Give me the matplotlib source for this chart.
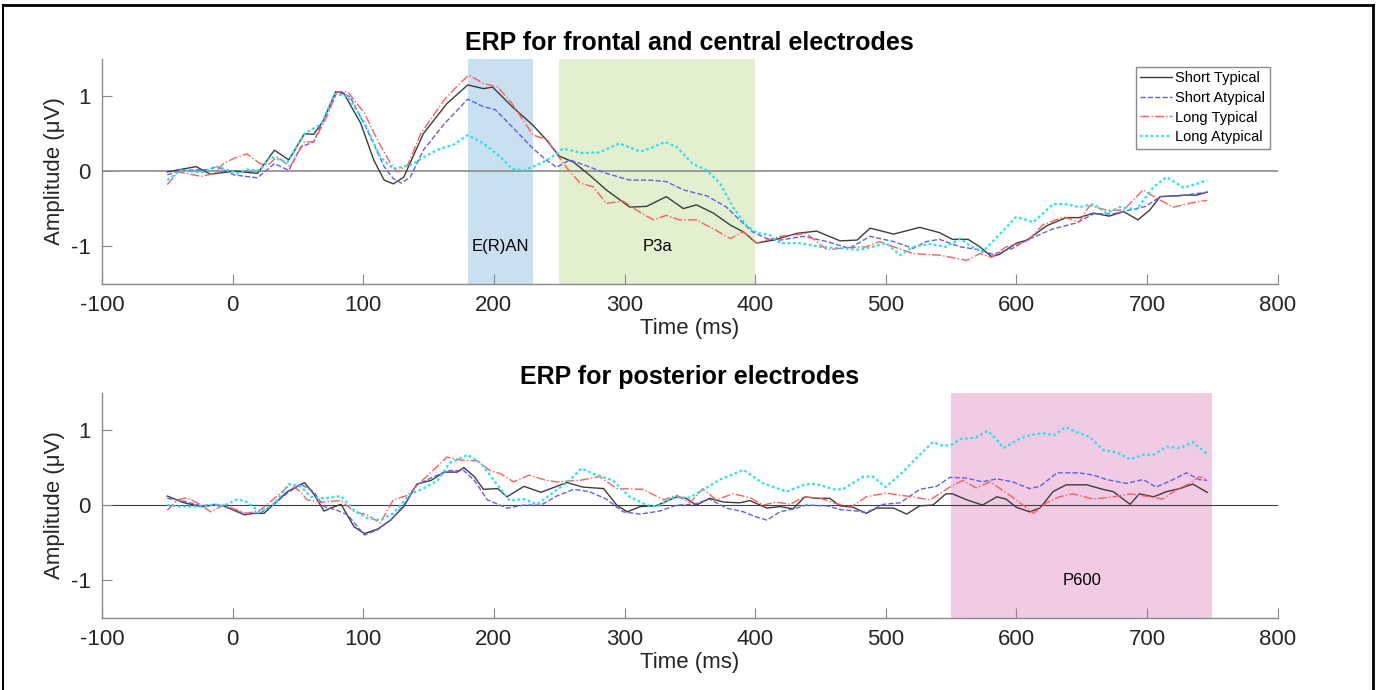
import numpy as np
import matplotlib.pyplot as plt
from matplotlib.lines import Line2D

plt.rcParams['font.family'] = ['Liberation Sans', 'DejaVu Sans']
plt.rcParams['axes.unicode_minus'] = False

# ---- frontal / central electrodes ----
fc_st_t = [-50, -28, -17, 1, 19, 32, 43, 55, 62, 69, 79, 85, 98, 108, 116, 123, 131, 146, 164,
           180, 192, 199, 214, 230, 240, 250, 261, 273, 286, 304, 317, 332, 345, 355, 368, 381,
           391, 401, 414, 432, 447, 465, 478, 488, 506, 526, 541, 551, 563, 572, 581, 587, 600,
           608, 623, 638, 648, 659, 671, 682, 693, 702, 710, 730, 738, 746]
fc_st_v = [-0.01, 0.06, -0.04, 0.0, -0.03, 0.28, 0.15, 0.50, 0.49, 0.66, 1.06, 1.04, 0.64, 0.15,
           -0.12, -0.17, -0.08, 0.50, 0.90, 1.15, 1.10, 1.12, 0.86, 0.61, 0.42, 0.20, 0.12, -0.05,
           -0.25, -0.48, -0.47, -0.34, -0.50, -0.45, -0.56, -0.72, -0.81, -0.96, -0.92, -0.83,
           -0.80, -0.93, -0.92, -0.76, -0.84, -0.75, -0.82, -0.91, -0.91, -1.01, -1.14, -1.11,
           -0.96, -0.92, -0.73, -0.62, -0.62, -0.56, -0.60, -0.54, -0.65, -0.52, -0.34, -0.32,
           -0.32, -0.28]

fc_sa_t = [-50, -40, -19, -12, 1, 19, 32, 43, 52, 62, 72, 80, 90, 103, 116, 123, 129, 136, 146,
           162, 180, 192, 201, 214, 230, 240, 248, 258, 271, 286, 304, 319, 332, 345, 363, 378,
           388, 398, 409, 419, 437, 455, 472, 488, 506, 521, 531, 541, 557, 572, 582, 597, 608,
           628, 646, 659, 674, 689, 699, 710, 725, 746]
fc_sa_v = [-0.05, 0.01, 0.02, 0.06, -0.05, -0.09, 0.10, 0.01, 0.32, 0.39, 0.77, 1.06, 0.99, 0.55,
           0.06, -0.10, -0.16, -0.08, 0.28, 0.63, 0.96, 0.86, 0.82, 0.59, 0.30, 0.15, 0.05, 0.15,
           0.07, -0.03, -0.12, -0.12, -0.14, -0.25, -0.33, -0.48, -0.65, -0.81, -0.90, -0.92,
           -0.87, -0.94, -1.03, -0.87, -0.94, -1.03, -0.94, -0.91, -1.01, -1.05, -1.11, -1.03,
           -0.92, -0.77, -0.69, -0.57, -0.57, -0.51, -0.47, -0.34, -0.33, -0.28]

fc_lt_t = [-50, -42, -24, -14, -7, 1, 11, 21, 27, 34, 44, 55, 62, 72, 80, 88, 101, 111, 121, 126,
           134, 144, 162, 175, 181, 192, 203, 214, 230, 241, 245, 256, 266, 276, 286, 299, 309,
           322, 332, 342, 355, 370, 381, 391, 401, 419, 439, 455, 470, 485, 495, 506, 521, 541,
           562, 572, 581, 592, 608, 620, 636, 648, 656, 669, 682, 697, 707, 720, 735, 746]
fc_lt_v = [-0.18, -0.01, -0.07, -0.03, 0.10, 0.17, 0.23, 0.10, 0.08, 0.19, 0.06, 0.39, 0.39, 0.72,
           1.06, 1.06, 0.77, 0.41, 0.10, -0.01, 0.08, 0.50, 0.95, 1.19, 1.28, 1.17, 1.12, 0.90,
           0.48, 0.42, 0.30, 0.04, -0.16, -0.21, -0.43, -0.40, -0.52, -0.65, -0.59, -0.65, -0.65,
           -0.79, -0.90, -0.81, -0.96, -0.87, -0.83, -1.05, -1.02, -1.01, -0.94, -1.01, -1.10,
           -1.12, -1.19, -1.10, -1.15, -1.01, -0.94, -0.72, -0.61, -0.68, -0.46, -0.52, -0.52,
           -0.25, -0.36, -0.48, -0.42, -0.39]

fc_la_t = [-50, -40, -24, -12, 4, 11, 21, 29, 42, 55, 68, 78, 88, 101, 113, 123, 136, 152, 159,
           169, 180, 192, 205, 214, 223, 233, 243, 253, 268, 281, 296, 312, 322, 331, 340, 352,
           363, 373, 383, 393, 401, 411, 419, 434, 450, 465, 480, 490, 500, 511, 521, 534, 546,
           557, 564, 574, 590, 600, 613, 628, 638, 648, 659, 669, 679, 692, 705, 715, 728, 738, 746]
fc_la_v = [-0.12, 0.01, -0.02, 0.06, -0.03, 0.02, 0.01, 0.19, 0.12, 0.50, 0.63, 1.03, 1.00, 0.64,
           0.19, 0.03, 0.08, 0.24, 0.30, 0.35, 0.48, 0.37, 0.19, 0.03, 0.01, 0.08, 0.17, 0.30,
           0.24, 0.25, 0.37, 0.26, 0.32, 0.39, 0.32, 0.10, 0.01, -0.16, -0.48, -0.72, -0.82,
           -0.85, -0.96, -0.96, -1.01, -1.03, -1.05, -1.01, -0.96, -1.12, -1.01, -0.97, -1.01,
           -0.90, -0.99, -1.08, -0.79, -0.61, -0.68, -0.44, -0.44, -0.48, -0.44, -0.56, -0.48,
           -0.51, -0.21, -0.08, -0.22, -0.17, -0.12]

# ---- posterior electrodes ----
po_st_t = [-50, -37, -24, -14, -7, 1, 9, 16, 24, 32, 42, 55, 62, 70, 75, 83, 93, 101, 111, 121,
           131, 141, 152, 162, 172, 177, 185, 192, 203, 210, 223, 236, 251, 256, 268, 284, 294,
           302, 312, 324, 340, 347, 355, 365, 376, 388, 396, 409, 419, 429, 438, 447, 457, 465,
           475, 485, 493, 506, 516, 526, 536, 546, 551, 562, 574, 585, 592, 600, 610, 618, 628,
           638, 654, 666, 674, 687, 694, 705, 715, 725, 735, 746]
po_st_v = [0.12, 0.03, -0.02, 0.0, -0.01, -0.07, -0.13, -0.11, -0.11, 0.02, 0.18, 0.30, 0.15,
           -0.08, -0.04, 0.01, -0.29, -0.38, -0.32, -0.20, -0.02, 0.28, 0.33, 0.44, 0.44, 0.50,
           0.38, 0.21, 0.22, 0.11, 0.25, 0.17, 0.27, 0.30, 0.24, 0.22, 0.0, -0.09, -0.02, -0.01,
           0.11, 0.09, 0.0, 0.09, 0.04, 0.03, 0.06, -0.04, -0.02, -0.05, 0.11, 0.09, 0.09, -0.01,
           -0.03, -0.11, -0.04, -0.04, -0.12, -0.01, 0.0, 0.15, 0.15, 0.07, 0.0, 0.11, 0.08,
           -0.03, -0.09, -0.04, 0.18, 0.27, 0.27, 0.21, 0.18, 0.01, 0.15, 0.11, 0.18, 0.22, 0.28,
           0.17]

po_sa_t = [-50, -37, -24, -14, 1, 9, 21, 32, 42, 52, 62, 70, 80, 88, 101, 111, 121, 131, 141,
           154, 166, 177, 185, 195, 210, 223, 236, 248, 261, 273, 286, 299, 312, 327, 340, 353,
           365, 378, 391, 401, 409, 419, 432, 439, 455, 465, 478, 485, 498, 511, 526, 539, 549,
           562, 574, 585, 597, 610, 618, 631, 648, 659, 669, 684, 697, 707, 720, 730, 740, 746]
po_sa_v = [0.09, 0.05, -0.01, 0.01, -0.06, -0.12, -0.11, 0.02, 0.16, 0.28, 0.18, -0.02, -0.07,
           -0.13, -0.40, -0.33, -0.20, 0.0, 0.27, 0.38, 0.46, 0.46, 0.33, 0.07, -0.04, 0.0, 0.0,
           0.12, 0.21, 0.18, 0.08, -0.09, -0.12, -0.08, 0.0, 0.01, 0.08, -0.04, -0.09, -0.16,
           -0.20, -0.09, -0.04, 0.0, -0.01, -0.06, -0.08, -0.10, 0.01, 0.03, 0.21, 0.25, 0.37,
           0.36, 0.31, 0.35, 0.31, 0.22, 0.25, 0.43, 0.43, 0.40, 0.34, 0.29, 0.34, 0.24, 0.34,
           0.43, 0.34, 0.33]

po_lt_t = [-50, -42, -35, -24, -17, -7, 4, 11, 21, 32, 44, 52, 57, 67, 83, 93, 103, 113, 123,
           134, 144, 154, 164, 175, 187, 197, 205, 215, 227, 240, 248, 266, 281, 294, 314, 330,
           340, 350, 360, 370, 383, 396, 406, 416, 427, 437, 450, 460, 473, 485, 500, 516, 534,
           541, 549, 559, 569, 580, 595, 605, 613, 623, 633, 643, 659, 674, 687, 699, 712, 722,
           733, 740, 746]
po_lt_v = [-0.07, 0.07, 0.10, 0.0, -0.09, 0.0, -0.07, -0.11, -0.07, 0.09, 0.27, 0.18, 0.07, 0.04,
           0.06, -0.09, -0.13, -0.24, 0.07, 0.13, 0.31, 0.47, 0.64, 0.60, 0.59, 0.46, 0.42, 0.31,
           0.40, 0.33, 0.31, 0.33, 0.38, 0.22, 0.21, 0.07, 0.13, 0.03, 0.22, 0.07, 0.15, 0.10,
           0.0, 0.04, 0.01, 0.11, 0.09, 0.03, -0.03, 0.11, 0.16, 0.12, 0.07, 0.15, 0.24, 0.33,
           0.23, 0.31, 0.13, 0.0, -0.11, 0.03, 0.11, 0.15, 0.08, 0.11, 0.15, 0.12, 0.08, 0.20,
           0.29, 0.38, 0.34]

po_la_t = [-50, -40, -24, -14, -7, 4, 11, 21, 32, 43, 52, 60, 70, 83, 93, 103, 113, 123, 136,
           146, 157, 166, 180, 190, 200, 212, 223, 233, 248, 258, 267, 276, 291, 304, 317, 325,
           337, 350, 360, 373, 383, 391, 406, 424, 439, 447, 460, 467, 483, 490, 500, 513, 523,
           536, 544, 551, 557, 569, 578, 585, 590, 603, 610, 620, 629, 637, 648, 656, 666, 677,
           687, 697, 705, 715, 725, 735, 746]
po_la_v = [0.0, -0.02, -0.02, 0.01, -0.01, 0.08, 0.04, -0.09, 0.02, 0.28, 0.25, 0.11, 0.09, 0.12,
           -0.07, -0.17, -0.20, -0.11, 0.15, 0.22, 0.33, 0.56, 0.67, 0.56, 0.33, 0.06, 0.08,
           0.01, 0.20, 0.33, 0.49, 0.42, 0.33, 0.11, 0.0, -0.02, 0.10, 0.10, 0.20, 0.34, 0.41,
           0.47, 0.29, 0.18, 0.28, 0.28, 0.21, 0.21, 0.38, 0.38, 0.24, 0.44, 0.62, 0.84, 0.79,
           0.81, 0.88, 0.90, 0.99, 0.87, 0.76, 0.89, 0.93, 0.96, 0.93, 1.04, 0.96, 0.91, 0.74,
           0.70, 0.61, 0.67, 0.67, 0.78, 0.76, 0.84, 0.68]

labels = ['Short Typical', 'Short Atypical', 'Long Typical', 'Long Atypical']
colors = ['#3c3c3c', '#6060ee', '#ff5c5c', '#22e4ee']
styles = ['-', '--', '-.', (0, (1.2, 1.2))]
widths = [1.0, 1.0, 1.0, 1.6]

fig = plt.figure(figsize=(13.8, 6.9), dpi=100)
ax1 = fig.add_axes([0.0739, 0.589, 0.852, 0.326])
ax2 = fig.add_axes([0.0739, 0.105, 0.852, 0.326])


def setup(ax, title):
    ax.set_xlim(-100, 800)
    ax.set_ylim(-1.5, 1.5)
    ax.set_xticks(np.arange(-100, 801, 100))
    ax.set_yticks([-1, 0, 1])
    for s in ['top', 'right']:
        ax.spines[s].set_visible(False)
    for s in ['left', 'bottom']:
        ax.spines[s].set_color('#8a8a8a')
        ax.spines[s].set_linewidth(1.0)
    ax.tick_params(direction='in', length=7, color='#8a8a8a', labelsize=16,
                   labelcolor='#262626', pad=8)
    ax.set_xlabel('Time (ms)', fontsize=16, color='#262626', labelpad=2)
    ax.set_ylabel('Amplitude (\u03bcV)', fontsize=16, color='#262626', labelpad=4)
    ax.set_title(title, fontsize=18, fontweight='bold', pad=6)


setup(ax1, 'ERP for frontal and central electrodes')
setup(ax2, 'ERP for posterior electrodes')

# time windows
ax1.axvspan(180, 230, color='#c9e0f0', zorder=0, lw=0)
ax1.axvspan(250, 400, color='#e2f0d0', zorder=0, lw=0)
ax2.axvspan(550, 750, color='#f0cbe3', zorder=0, lw=0)
ax1.text(205, -1.0, 'E(R)AN', ha='center', va='center', fontsize=12)
ax1.text(325, -1.0, 'P3a', ha='center', va='center', fontsize=12)
ax2.text(650, -1.0, 'P600', ha='center', va='center', fontsize=12)

ax1.axhline(0, color='#8c8c8c', lw=1.2, zorder=1)
ax2.axhline(0, color='#404040', lw=0.8, zorder=1)

top = [(fc_st_t, fc_st_v), (fc_sa_t, fc_sa_v), (fc_lt_t, fc_lt_v), (fc_la_t, fc_la_v)]
bot = [(po_st_t, po_st_v), (po_sa_t, po_sa_v), (po_lt_t, po_lt_v), (po_la_t, po_la_v)]

for i in range(4):
    ax1.plot(top[i][0], top[i][1], linestyle=styles[i], color=colors[i], lw=widths[i],
             label=labels[i], zorder=3)
    ax2.plot(bot[i][0], bot[i][1], linestyle=styles[i], color=colors[i], lw=widths[i],
             zorder=3)

leg = ax1.legend(loc='upper right', bbox_to_anchor=(0.993, 0.965), borderaxespad=0,
                 fontsize=10.5, fancybox=False, framealpha=1, edgecolor='#8a8a8a',
                 handlelength=2.2, handletextpad=0.2, labelspacing=0.4, borderpad=0.3)
leg.get_frame().set_linewidth(1.0)

# figure frame
fig.add_artist(Line2D([3 / 1380, 1373 / 1380], [1 - 5 / 690, 1 - 5 / 690], color='black', lw=2))
fig.add_artist(Line2D([3 / 1380, 3 / 1380], [0, 1 - 5 / 690], color='black', lw=1.5))
fig.add_artist(Line2D([1373 / 1380, 1373 / 1380], [0, 1 - 5 / 690], color='black', lw=2))

fig.savefig('out.png', dpi=100)
plt.close(fig)
